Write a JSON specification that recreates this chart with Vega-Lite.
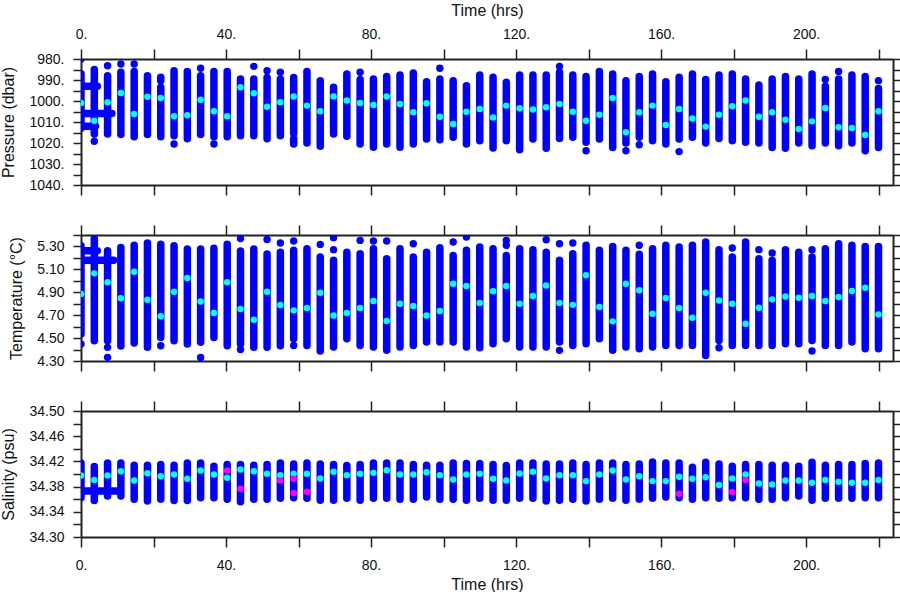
{
  "$schema": "https://vega.github.io/schema/vega-lite/v6.json",
  "padding": {"left": 0, "top": 2, "right": 0, "bottom": 0},
  "spacing": 50,
  "bounds": "flush",
  "background": "white",
  "resolve": {"scale": {"x": "independent", "y": "independent", "color": "independent"}},
  "config": {
    "view": {"stroke": null},
    "axis": {
      "labelFont": "Liberation Sans", "titleFont": "Liberation Sans",
      "labelFontSize": 14, "titleFontSize": 16, "titleFontWeight": "normal",
      "labelColor": "#111", "titleColor": "#111",
      "domainColor": "#222", "tickColor": "#222", "domainWidth": 2, "tickWidth": 1.5,
      "grid": false, "labelOverlap": false, "labelFlush": false, "labelBound": false
    }
  },
  "datasets": {
    "segs": [
      {"p":"P","t":0,"t2":0,"v":987,"v2":1013},
      {"p":"P","t":3.67,"t2":3.67,"v":985,"v2":1015.7},
      {"p":"P","t":7.33,"t2":7.33,"v":988,"v2":1015.7},
      {"p":"P","t":0.5,"t2":4.5,"v":993,"v2":993},
      {"p":"P","t":0.8,"t2":8.5,"v":1006,"v2":1006},
      {"p":"P","t":0.5,"t2":4,"v":1012,"v2":1012},
      {"p":"P","t":11,"t2":11,"v":986.3,"v2":1016},
      {"p":"P","t":14.67,"t2":14.67,"v":986,"v2":1017},
      {"p":"P","t":18.33,"t2":18.33,"v":988,"v2":1016},
      {"p":"P","t":22,"t2":22,"v":993.5,"v2":1017},
      {"p":"P","t":22,"t2":22,"v":988.7,"v2":990.3},
      {"p":"P","t":25.67,"t2":25.67,"v":985.6,"v2":1016.5},
      {"p":"P","t":29.33,"t2":29.33,"v":986,"v2":1018},
      {"p":"P","t":33,"t2":33,"v":988,"v2":1016},
      {"p":"P","t":36.67,"t2":36.67,"v":986,"v2":1017},
      {"p":"P","t":40.33,"t2":40.33,"v":986,"v2":1017},
      {"p":"P","t":44,"t2":44,"v":989.5,"v2":1016.5},
      {"p":"P","t":47.67,"t2":47.67,"v":989.5,"v2":1016.5},
      {"p":"P","t":51.33,"t2":51.33,"v":988.8,"v2":1018},
      {"p":"P","t":55,"t2":55,"v":989.5,"v2":1016.5},
      {"p":"P","t":58.67,"t2":58.67,"v":988.8,"v2":1015.5},
      {"p":"P","t":58.67,"t2":58.67,"v":1018,"v2":1020.5},
      {"p":"P","t":62.33,"t2":62.33,"v":986,"v2":1020},
      {"p":"P","t":66,"t2":66,"v":990.3,"v2":1021.6},
      {"p":"P","t":69.67,"t2":69.67,"v":993.5,"v2":1015.7},
      {"p":"P","t":73.33,"t2":73.33,"v":987.1,"v2":1016.8},
      {"p":"P","t":77,"t2":77,"v":989.8,"v2":1020.5},
      {"p":"P","t":80.67,"t2":80.67,"v":989.5,"v2":1022},
      {"p":"P","t":84.33,"t2":84.33,"v":988.3,"v2":1020.5},
      {"p":"P","t":88,"t2":88,"v":987.6,"v2":1022},
      {"p":"P","t":91.67,"t2":91.67,"v":986.7,"v2":1020.5},
      {"p":"P","t":95.33,"t2":95.33,"v":990.8,"v2":1018.1},
      {"p":"P","t":99,"t2":99,"v":989.5,"v2":1018.4},
      {"p":"P","t":102.67,"t2":102.67,"v":990.3,"v2":1017.3},
      {"p":"P","t":106.33,"t2":106.33,"v":992.7,"v2":1020.5},
      {"p":"P","t":110,"t2":110,"v":987.6,"v2":1018.9},
      {"p":"P","t":113.67,"t2":113.67,"v":988.7,"v2":1022.4},
      {"p":"P","t":117.33,"t2":117.33,"v":991.1,"v2":1018.9},
      {"p":"P","t":121,"t2":121,"v":987.6,"v2":1023.2},
      {"p":"P","t":124.67,"t2":124.67,"v":987.6,"v2":1018.1},
      {"p":"P","t":128.33,"t2":128.33,"v":987.6,"v2":1022.5},
      {"p":"P","t":132,"t2":132,"v":986.3,"v2":1017.8},
      {"p":"P","t":135.67,"t2":135.67,"v":987.6,"v2":1017.3},
      {"p":"P","t":139.33,"t2":139.33,"v":988.3,"v2":1019.7},
      {"p":"P","t":143,"t2":143,"v":986,"v2":1018.1},
      {"p":"P","t":146.67,"t2":146.67,"v":987.1,"v2":1022.1},
      {"p":"P","t":150.33,"t2":150.33,"v":990.3,"v2":1020},
      {"p":"P","t":154,"t2":154,"v":988.3,"v2":1017.3},
      {"p":"P","t":157.67,"t2":157.67,"v":987.1,"v2":1018.9},
      {"p":"P","t":161.33,"t2":161.33,"v":990.8,"v2":1020.5},
      {"p":"P","t":165,"t2":165,"v":988.7,"v2":1018.1},
      {"p":"P","t":168.67,"t2":168.67,"v":987.1,"v2":1017.3},
      {"p":"P","t":172.33,"t2":172.33,"v":989.8,"v2":1020},
      {"p":"P","t":176,"t2":176,"v":987.6,"v2":1017.8},
      {"p":"P","t":179.67,"t2":179.67,"v":987.1,"v2":1018.9},
      {"p":"P","t":183.33,"t2":183.33,"v":989.5,"v2":1019.7},
      {"p":"P","t":187,"t2":187,"v":992.4,"v2":1020},
      {"p":"P","t":190.67,"t2":190.67,"v":989.5,"v2":1022.1},
      {"p":"P","t":194.33,"t2":194.33,"v":988.3,"v2":1022.5},
      {"p":"P","t":198,"t2":198,"v":989.5,"v2":1020},
      {"p":"P","t":201.67,"t2":201.67,"v":987.1,"v2":1021.3},
      {"p":"P","t":205.33,"t2":205.33,"v":993,"v2":1020},
      {"p":"P","t":209,"t2":209,"v":989.5,"v2":1021.3},
      {"p":"P","t":212.67,"t2":212.67,"v":987.6,"v2":1020},
      {"p":"P","t":216.33,"t2":216.33,"v":988.3,"v2":1023.7},
      {"p":"P","t":220,"t2":220,"v":994,"v2":1022.1},

      {"p":"T","t":0,"t2":0,"v":5.307,"v2":4.535},
      {"p":"T","t":3.67,"t2":3.67,"v":5.37,"v2":4.477},
      {"p":"T","t":7.33,"t2":7.33,"v":5.263,"v2":4.477},
      {"p":"T","t":0,"t2":4.5,"v":5.263,"v2":5.263},
      {"p":"T","t":0.5,"t2":9,"v":5.18,"v2":5.18},
      {"p":"T","t":11,"t2":11,"v":5.29,"v2":4.43},
      {"p":"T","t":14.67,"t2":14.67,"v":5.31,"v2":4.457},
      {"p":"T","t":18.33,"t2":18.33,"v":5.33,"v2":4.42},
      {"p":"T","t":22,"t2":22,"v":5.32,"v2":4.506},
      {"p":"T","t":25.67,"t2":25.67,"v":5.307,"v2":4.477},
      {"p":"T","t":29.33,"t2":29.33,"v":5.278,"v2":4.448},
      {"p":"T","t":33,"t2":33,"v":5.278,"v2":4.463},
      {"p":"T","t":36.67,"t2":36.67,"v":5.284,"v2":4.506},
      {"p":"T","t":40.33,"t2":40.33,"v":5.32,"v2":4.433},
      {"p":"T","t":44,"t2":44,"v":5.26,"v2":4.448},
      {"p":"T","t":47.67,"t2":47.67,"v":5.278,"v2":4.42},
      {"p":"T","t":51.33,"t2":51.33,"v":5.234,"v2":4.42},
      {"p":"T","t":55,"t2":55,"v":5.249,"v2":4.433},
      {"p":"T","t":58.67,"t2":58.67,"v":5.266,"v2":4.495},
      {"p":"T","t":62.33,"t2":62.33,"v":5.28,"v2":4.436},
      {"p":"T","t":66,"t2":66,"v":5.208,"v2":4.387},
      {"p":"T","t":69.67,"t2":69.67,"v":5.179,"v2":4.422},
      {"p":"T","t":73.33,"t2":73.33,"v":5.25,"v2":4.495},
      {"p":"T","t":77,"t2":77,"v":5.237,"v2":4.436},
      {"p":"T","t":80.67,"t2":80.67,"v":5.28,"v2":4.422},
      {"p":"T","t":84.33,"t2":84.33,"v":5.193,"v2":4.393},
      {"p":"T","t":88,"t2":88,"v":5.28,"v2":4.422},
      {"p":"T","t":91.67,"t2":91.67,"v":5.208,"v2":4.436},
      {"p":"T","t":95.33,"t2":95.33,"v":5.25,"v2":4.466},
      {"p":"T","t":99,"t2":99,"v":5.289,"v2":4.466},
      {"p":"T","t":102.67,"t2":102.67,"v":5.222,"v2":4.466},
      {"p":"T","t":106.33,"t2":106.33,"v":5.266,"v2":4.422},
      {"p":"T","t":110,"t2":110,"v":5.295,"v2":4.416},
      {"p":"T","t":113.67,"t2":113.67,"v":5.28,"v2":4.451},
      {"p":"T","t":117.33,"t2":117.33,"v":5.222,"v2":4.495},
      {"p":"T","t":121,"t2":121,"v":5.28,"v2":4.422},
      {"p":"T","t":124.67,"t2":124.67,"v":5.272,"v2":4.422},
      {"p":"T","t":128.33,"t2":128.33,"v":5.25,"v2":4.422},
      {"p":"T","t":132,"t2":132,"v":5.179,"v2":4.466},
      {"p":"T","t":135.67,"t2":135.67,"v":5.237,"v2":4.436},
      {"p":"T","t":139.33,"t2":139.33,"v":5.31,"v2":4.451},
      {"p":"T","t":143,"t2":143,"v":5.266,"v2":4.495},
      {"p":"T","t":146.67,"t2":146.67,"v":5.3,"v2":4.393},
      {"p":"T","t":150.33,"t2":150.33,"v":5.266,"v2":4.422},
      {"p":"T","t":154,"t2":154,"v":5.231,"v2":4.407},
      {"p":"T","t":157.67,"t2":157.67,"v":5.28,"v2":4.422},
      {"p":"T","t":161.33,"t2":161.33,"v":5.31,"v2":4.436},
      {"p":"T","t":165,"t2":165,"v":5.295,"v2":4.436},
      {"p":"T","t":168.67,"t2":168.67,"v":5.31,"v2":4.436},
      {"p":"T","t":172.33,"t2":172.33,"v":5.339,"v2":4.349},
      {"p":"T","t":176,"t2":176,"v":5.272,"v2":4.48},
      {"p":"T","t":179.67,"t2":179.67,"v":5.208,"v2":4.436},
      {"p":"T","t":183.33,"t2":183.33,"v":5.339,"v2":4.436},
      {"p":"T","t":187,"t2":187,"v":5.193,"v2":4.436},
      {"p":"T","t":190.67,"t2":190.67,"v":5.179,"v2":4.436},
      {"p":"T","t":194.33,"t2":194.33,"v":5.272,"v2":4.451},
      {"p":"T","t":198,"t2":198,"v":5.25,"v2":4.451},
      {"p":"T","t":201.67,"t2":201.67,"v":5.208,"v2":4.48},
      {"p":"T","t":205.33,"t2":205.33,"v":5.28,"v2":4.436},
      {"p":"T","t":209,"t2":209,"v":5.324,"v2":4.436},
      {"p":"T","t":212.67,"t2":212.67,"v":5.31,"v2":4.466},
      {"p":"T","t":216.33,"t2":216.33,"v":5.3,"v2":4.407},
      {"p":"T","t":220,"t2":220,"v":5.3,"v2":4.407},

      {"p":"S","t":0,"t2":0,"v":34.4176,"v2":34.3625},
      {"p":"S","t":3.67,"t2":3.67,"v":34.412,"v2":34.358},
      {"p":"S","t":7.33,"t2":7.33,"v":34.4176,"v2":34.3651},
      {"p":"S","t":0.5,"t2":9.7,"v":34.373,"v2":34.373},
      {"p":"S","t":11,"t2":11,"v":34.4176,"v2":34.3651},
      {"p":"S","t":14.67,"t2":14.67,"v":34.414,"v2":34.36},
      {"p":"S","t":18.33,"t2":18.33,"v":34.414,"v2":34.357},
      {"p":"S","t":22,"t2":22,"v":34.415,"v2":34.36},
      {"p":"S","t":25.67,"t2":25.67,"v":34.414,"v2":34.358},
      {"p":"S","t":29.33,"t2":29.33,"v":34.4176,"v2":34.358},
      {"p":"S","t":33,"t2":33,"v":34.4176,"v2":34.3625},
      {"p":"S","t":36.67,"t2":36.67,"v":34.4123,"v2":34.3625},
      {"p":"S","t":40.33,"t2":40.33,"v":34.415,"v2":34.36},
      {"p":"S","t":44,"t2":44,"v":34.415,"v2":34.356},
      {"p":"S","t":47.67,"t2":47.67,"v":34.414,"v2":34.36},
      {"p":"S","t":51.33,"t2":51.33,"v":34.415,"v2":34.36},
      {"p":"S","t":55,"t2":55,"v":34.4176,"v2":34.3614},
      {"p":"S","t":58.67,"t2":58.67,"v":34.416,"v2":34.3625},
      {"p":"S","t":62.33,"t2":62.33,"v":34.4176,"v2":34.3614},
      {"p":"S","t":66,"t2":66,"v":34.416,"v2":34.3583},
      {"p":"S","t":69.67,"t2":69.67,"v":34.415,"v2":34.3583},
      {"p":"S","t":73.33,"t2":73.33,"v":34.4134,"v2":34.3614},
      {"p":"S","t":77,"t2":77,"v":34.415,"v2":34.3583},
      {"p":"S","t":80.67,"t2":80.67,"v":34.4176,"v2":34.3614},
      {"p":"S","t":84.33,"t2":84.33,"v":34.4176,"v2":34.3614},
      {"p":"S","t":88,"t2":88,"v":34.4176,"v2":34.3598},
      {"p":"S","t":91.67,"t2":91.67,"v":34.415,"v2":34.3598},
      {"p":"S","t":95.33,"t2":95.33,"v":34.4139,"v2":34.3635},
      {"p":"S","t":99,"t2":99,"v":34.4139,"v2":34.3598},
      {"p":"S","t":102.67,"t2":102.67,"v":34.4176,"v2":34.3598},
      {"p":"S","t":106.33,"t2":106.33,"v":34.4165,"v2":34.3583},
      {"p":"S","t":110,"t2":110,"v":34.4165,"v2":34.3614},
      {"p":"S","t":113.67,"t2":113.67,"v":34.415,"v2":34.3583},
      {"p":"S","t":117.33,"t2":117.33,"v":34.4134,"v2":34.3583},
      {"p":"S","t":121,"t2":121,"v":34.4176,"v2":34.3614},
      {"p":"S","t":124.67,"t2":124.67,"v":34.4176,"v2":34.3614},
      {"p":"S","t":128.33,"t2":128.33,"v":34.416,"v2":34.3572},
      {"p":"S","t":132,"t2":132,"v":34.416,"v2":34.3583},
      {"p":"S","t":135.67,"t2":135.67,"v":34.4176,"v2":34.3598},
      {"p":"S","t":139.33,"t2":139.33,"v":34.415,"v2":34.3572},
      {"p":"S","t":143,"t2":143,"v":34.4176,"v2":34.3598},
      {"p":"S","t":146.67,"t2":146.67,"v":34.4176,"v2":34.3614},
      {"p":"S","t":150.33,"t2":150.33,"v":34.415,"v2":34.3583},
      {"p":"S","t":154,"t2":154,"v":34.416,"v2":34.3598},
      {"p":"S","t":157.67,"t2":157.67,"v":34.4192,"v2":34.3614},
      {"p":"S","t":161.33,"t2":161.33,"v":34.4176,"v2":34.3635},
      {"p":"S","t":165,"t2":165,"v":34.4176,"v2":34.3625},
      {"p":"S","t":168.67,"t2":168.67,"v":34.4108,"v2":34.3598},
      {"p":"S","t":172.33,"t2":172.33,"v":34.4186,"v2":34.3625},
      {"p":"S","t":176,"t2":176,"v":34.416,"v2":34.3614},
      {"p":"S","t":179.67,"t2":179.67,"v":34.4123,"v2":34.3625},
      {"p":"S","t":183.33,"t2":183.33,"v":34.415,"v2":34.3625},
      {"p":"S","t":187,"t2":187,"v":34.415,"v2":34.3598},
      {"p":"S","t":190.67,"t2":190.67,"v":34.4139,"v2":34.3598},
      {"p":"S","t":194.33,"t2":194.33,"v":34.4139,"v2":34.3625},
      {"p":"S","t":198,"t2":198,"v":34.4123,"v2":34.3651},
      {"p":"S","t":201.67,"t2":201.67,"v":34.4186,"v2":34.3583},
      {"p":"S","t":205.33,"t2":205.33,"v":34.4139,"v2":34.3614},
      {"p":"S","t":209,"t2":209,"v":34.415,"v2":34.3614},
      {"p":"S","t":212.67,"t2":212.67,"v":34.415,"v2":34.3614},
      {"p":"S","t":216.33,"t2":216.33,"v":34.4165,"v2":34.3625},
      {"p":"S","t":220,"t2":220,"v":34.4176,"v2":34.3625}
    ],
    "pts": [
      {"p":"P","t":0,"v":980,"c":"b"},
      {"p":"P","t":3.67,"v":1019.2,"c":"b"},
      {"p":"P","t":7.33,"v":983.2,"c":"b"},
      {"p":"P","t":11,"v":982.4,"c":"b"},
      {"p":"P","t":14.67,"v":982.4,"c":"b"},
      {"p":"P","t":25.67,"v":1020.5,"c":"b"},
      {"p":"P","t":33,"v":984.4,"c":"b"},
      {"p":"P","t":36.67,"v":1020.5,"c":"b"},
      {"p":"P","t":47.67,"v":983.5,"c":"b"},
      {"p":"P","t":51.33,"v":985.6,"c":"b"},
      {"p":"P","t":55,"v":986.3,"c":"b"},
      {"p":"P","t":77,"v":986.3,"c":"b"},
      {"p":"P","t":99,"v":984.4,"c":"b"},
      {"p":"P","t":132,"v":983.5,"c":"b"},
      {"p":"P","t":139.33,"v":1023.7,"c":"b"},
      {"p":"P","t":150.33,"v":1023.7,"c":"b"},
      {"p":"P","t":154,"v":1020.8,"c":"b"},
      {"p":"P","t":165,"v":1024.1,"c":"b"},
      {"p":"P","t":205.33,"v":989.8,"c":"b"},
      {"p":"P","t":209,"v":985.9,"c":"b"},
      {"p":"P","t":220,"v":990.3,"c":"b"},

      {"p":"T","t":0,"v":4.448,"c":"b"},
      {"p":"T","t":7.33,"v":4.419,"c":"b"},
      {"p":"T","t":7.33,"v":4.332,"c":"b"},
      {"p":"T","t":22,"v":4.433,"c":"b"},
      {"p":"T","t":33,"v":4.33,"c":"b"},
      {"p":"T","t":44,"v":5.37,"c":"b"},
      {"p":"T","t":44,"v":4.4,"c":"b"},
      {"p":"T","t":51.33,"v":5.36,"c":"b"},
      {"p":"T","t":55,"v":5.33,"c":"b"},
      {"p":"T","t":58.67,"v":5.348,"c":"b"},
      {"p":"T","t":58.67,"v":4.436,"c":"b"},
      {"p":"T","t":66,"v":5.318,"c":"b"},
      {"p":"T","t":69.67,"v":5.377,"c":"b"},
      {"p":"T","t":69.67,"v":5.272,"c":"b"},
      {"p":"T","t":77,"v":5.353,"c":"b"},
      {"p":"T","t":80.67,"v":5.348,"c":"b"},
      {"p":"T","t":84.33,"v":5.348,"c":"b"},
      {"p":"T","t":91.67,"v":5.324,"c":"b"},
      {"p":"T","t":102.67,"v":5.339,"c":"b"},
      {"p":"T","t":106.33,"v":5.383,"c":"b"},
      {"p":"T","t":117.33,"v":5.353,"c":"b"},
      {"p":"T","t":117.33,"v":5.31,"c":"b"},
      {"p":"T","t":128.33,"v":5.359,"c":"b"},
      {"p":"T","t":132,"v":5.324,"c":"b"},
      {"p":"T","t":132,"v":4.393,"c":"b"},
      {"p":"T","t":135.67,"v":5.33,"c":"b"},
      {"p":"T","t":154,"v":5.31,"c":"b"},
      {"p":"T","t":176,"v":4.416,"c":"b"},
      {"p":"T","t":179.67,"v":5.286,"c":"b"},
      {"p":"T","t":187,"v":5.272,"c":"b"},
      {"p":"T","t":190.67,"v":5.243,"c":"b"},
      {"p":"T","t":201.67,"v":5.272,"c":"b"},
      {"p":"T","t":201.67,"v":4.387,"c":"b"},

      {"p":"P","t":0,"v":1001,"c":"c"},
      {"p":"P","t":3.67,"v":1009.4,"c":"c"},
      {"p":"P","t":7.33,"v":1000.6,"c":"c"},
      {"p":"P","t":11,"v":996.2,"c":"c"},
      {"p":"P","t":14.67,"v":1006.2,"c":"c"},
      {"p":"P","t":18.33,"v":998,"c":"c"},
      {"p":"P","t":22,"v":998.6,"c":"c"},
      {"p":"P","t":25.67,"v":1007.3,"c":"c"},
      {"p":"P","t":29.33,"v":1006.8,"c":"c"},
      {"p":"P","t":33,"v":999.4,"c":"c"},
      {"p":"P","t":36.67,"v":1004.9,"c":"c"},
      {"p":"P","t":40.33,"v":1007.3,"c":"c"},
      {"p":"P","t":44,"v":993.5,"c":"c"},
      {"p":"P","t":47.67,"v":996.3,"c":"c"},
      {"p":"P","t":51.33,"v":1002.7,"c":"c"},
      {"p":"P","t":55,"v":1000.6,"c":"c"},
      {"p":"P","t":58.67,"v":997.9,"c":"c"},
      {"p":"P","t":62.33,"v":1002.2,"c":"c"},
      {"p":"P","t":66,"v":1004.9,"c":"c"},
      {"p":"P","t":69.67,"v":997.8,"c":"c"},
      {"p":"P","t":73.33,"v":999.8,"c":"c"},
      {"p":"P","t":77,"v":1001,"c":"c"},
      {"p":"P","t":80.67,"v":1001.9,"c":"c"},
      {"p":"P","t":84.33,"v":997.9,"c":"c"},
      {"p":"P","t":88,"v":1001.4,"c":"c"},
      {"p":"P","t":91.67,"v":1005.4,"c":"c"},
      {"p":"P","t":95.33,"v":1001.1,"c":"c"},
      {"p":"P","t":99,"v":1007.5,"c":"c"},
      {"p":"P","t":102.67,"v":1011,"c":"c"},
      {"p":"P","t":106.33,"v":1005.1,"c":"c"},
      {"p":"P","t":110,"v":1003.8,"c":"c"},
      {"p":"P","t":113.67,"v":1007.8,"c":"c"},
      {"p":"P","t":117.33,"v":1002.2,"c":"c"},
      {"p":"P","t":121,"v":1003.5,"c":"c"},
      {"p":"P","t":124.67,"v":1004.1,"c":"c"},
      {"p":"P","t":128.33,"v":1003,"c":"c"},
      {"p":"P","t":132,"v":1001.4,"c":"c"},
      {"p":"P","t":135.67,"v":1005.1,"c":"c"},
      {"p":"P","t":139.33,"v":1009.4,"c":"c"},
      {"p":"P","t":143,"v":1006.5,"c":"c"},
      {"p":"P","t":146.67,"v":998.6,"c":"c"},
      {"p":"P","t":150.33,"v":1014.9,"c":"c"},
      {"p":"P","t":154,"v":1005.4,"c":"c"},
      {"p":"P","t":157.67,"v":1002.2,"c":"c"},
      {"p":"P","t":161.33,"v":1011.4,"c":"c"},
      {"p":"P","t":165,"v":1003.8,"c":"c"},
      {"p":"P","t":168.67,"v":1008.3,"c":"c"},
      {"p":"P","t":172.33,"v":1012.2,"c":"c"},
      {"p":"P","t":176,"v":1006.5,"c":"c"},
      {"p":"P","t":179.67,"v":1002.5,"c":"c"},
      {"p":"P","t":183.33,"v":999.8,"c":"c"},
      {"p":"P","t":187,"v":1007.5,"c":"c"},
      {"p":"P","t":190.67,"v":1005.4,"c":"c"},
      {"p":"P","t":194.33,"v":1008.9,"c":"c"},
      {"p":"P","t":198,"v":1013.3,"c":"c"},
      {"p":"P","t":201.67,"v":1009.7,"c":"c"},
      {"p":"P","t":205.33,"v":1003.3,"c":"c"},
      {"p":"P","t":209,"v":1012.5,"c":"c"},
      {"p":"P","t":212.67,"v":1012.9,"c":"c"},
      {"p":"P","t":216.33,"v":1016.2,"c":"c"},
      {"p":"P","t":220,"v":1004.9,"c":"c"},

      {"p":"T","t":0,"v":4.885,"c":"c"},
      {"p":"T","t":3.67,"v":5.065,"c":"c"},
      {"p":"T","t":7.33,"v":4.987,"c":"c"},
      {"p":"T","t":11,"v":4.847,"c":"c"},
      {"p":"T","t":14.67,"v":5.08,"c":"c"},
      {"p":"T","t":18.33,"v":4.835,"c":"c"},
      {"p":"T","t":22,"v":4.69,"c":"c"},
      {"p":"T","t":25.67,"v":4.905,"c":"c"},
      {"p":"T","t":29.33,"v":5.024,"c":"c"},
      {"p":"T","t":33,"v":4.82,"c":"c"},
      {"p":"T","t":36.67,"v":4.719,"c":"c"},
      {"p":"T","t":40.33,"v":4.987,"c":"c"},
      {"p":"T","t":44,"v":4.754,"c":"c"},
      {"p":"T","t":47.67,"v":4.66,"c":"c"},
      {"p":"T","t":51.33,"v":4.905,"c":"c"},
      {"p":"T","t":55,"v":4.789,"c":"c"},
      {"p":"T","t":58.67,"v":4.742,"c":"c"},
      {"p":"T","t":62.33,"v":4.762,"c":"c"},
      {"p":"T","t":66,"v":4.896,"c":"c"},
      {"p":"T","t":69.67,"v":4.698,"c":"c"},
      {"p":"T","t":73.33,"v":4.72,"c":"c"},
      {"p":"T","t":77,"v":4.762,"c":"c"},
      {"p":"T","t":80.67,"v":4.823,"c":"c"},
      {"p":"T","t":84.33,"v":4.649,"c":"c"},
      {"p":"T","t":88,"v":4.8,"c":"c"},
      {"p":"T","t":91.67,"v":4.78,"c":"c"},
      {"p":"T","t":95.33,"v":4.698,"c":"c"},
      {"p":"T","t":99,"v":4.736,"c":"c"},
      {"p":"T","t":102.67,"v":4.975,"c":"c"},
      {"p":"T","t":106.33,"v":4.955,"c":"c"},
      {"p":"T","t":110,"v":4.806,"c":"c"},
      {"p":"T","t":113.67,"v":4.908,"c":"c"},
      {"p":"T","t":117.33,"v":4.955,"c":"c"},
      {"p":"T","t":121,"v":4.8,"c":"c"},
      {"p":"T","t":124.67,"v":4.867,"c":"c"},
      {"p":"T","t":128.33,"v":4.96,"c":"c"},
      {"p":"T","t":132,"v":4.806,"c":"c"},
      {"p":"T","t":135.67,"v":4.79,"c":"c"},
      {"p":"T","t":139.33,"v":5.048,"c":"c"},
      {"p":"T","t":143,"v":4.771,"c":"c"},
      {"p":"T","t":146.67,"v":4.646,"c":"c"},
      {"p":"T","t":150.33,"v":4.975,"c":"c"},
      {"p":"T","t":154,"v":4.917,"c":"c"},
      {"p":"T","t":157.67,"v":4.713,"c":"c"},
      {"p":"T","t":161.33,"v":4.85,"c":"c"},
      {"p":"T","t":165,"v":4.762,"c":"c"},
      {"p":"T","t":168.67,"v":4.678,"c":"c"},
      {"p":"T","t":172.33,"v":4.896,"c":"c"},
      {"p":"T","t":176,"v":4.829,"c":"c"},
      {"p":"T","t":179.67,"v":4.8,"c":"c"},
      {"p":"T","t":183.33,"v":4.626,"c":"c"},
      {"p":"T","t":187,"v":4.765,"c":"c"},
      {"p":"T","t":190.67,"v":4.838,"c":"c"},
      {"p":"T","t":194.33,"v":4.864,"c":"c"},
      {"p":"T","t":198,"v":4.853,"c":"c"},
      {"p":"T","t":201.67,"v":4.867,"c":"c"},
      {"p":"T","t":205.33,"v":4.823,"c":"c"},
      {"p":"T","t":209,"v":4.858,"c":"c"},
      {"p":"T","t":212.67,"v":4.911,"c":"c"},
      {"p":"T","t":216.33,"v":4.94,"c":"c"},
      {"p":"T","t":220,"v":4.707,"c":"c"},

      {"p":"S","t":0,"v":34.3976,"c":"c"},
      {"p":"S","t":3.67,"v":34.3903,"c":"c"},
      {"p":"S","t":7.33,"v":34.3976,"c":"c"},
      {"p":"S","t":11,"v":34.4045,"c":"c"},
      {"p":"S","t":14.67,"v":34.3898,"c":"c"},
      {"p":"S","t":18.33,"v":34.4013,"c":"c"},
      {"p":"S","t":22,"v":34.3966,"c":"c"},
      {"p":"S","t":25.67,"v":34.3992,"c":"c"},
      {"p":"S","t":29.33,"v":34.3924,"c":"c"},
      {"p":"S","t":33,"v":34.4055,"c":"c"},
      {"p":"S","t":36.67,"v":34.3992,"c":"c"},
      {"p":"S","t":40.33,"v":34.394,"c":"c"},
      {"p":"S","t":44,"v":34.4071,"c":"c"},
      {"p":"S","t":47.67,"v":34.4045,"c":"c"},
      {"p":"S","t":51.33,"v":34.4003,"c":"c"},
      {"p":"S","t":55,"v":34.3982,"c":"c"},
      {"p":"S","t":58.67,"v":34.4003,"c":"c"},
      {"p":"S","t":62.33,"v":34.4003,"c":"c"},
      {"p":"S","t":66,"v":34.3929,"c":"c"},
      {"p":"S","t":69.67,"v":34.4034,"c":"c"},
      {"p":"S","t":73.33,"v":34.3982,"c":"c"},
      {"p":"S","t":77,"v":34.4003,"c":"c"},
      {"p":"S","t":80.67,"v":34.4018,"c":"c"},
      {"p":"S","t":84.33,"v":34.406,"c":"c"},
      {"p":"S","t":88,"v":34.3992,"c":"c"},
      {"p":"S","t":91.67,"v":34.3992,"c":"c"},
      {"p":"S","t":95.33,"v":34.4029,"c":"c"},
      {"p":"S","t":99,"v":34.3982,"c":"c"},
      {"p":"S","t":102.67,"v":34.3913,"c":"c"},
      {"p":"S","t":106.33,"v":34.3992,"c":"c"},
      {"p":"S","t":110,"v":34.4003,"c":"c"},
      {"p":"S","t":113.67,"v":34.3924,"c":"c"},
      {"p":"S","t":117.33,"v":34.3898,"c":"c"},
      {"p":"S","t":121,"v":34.4008,"c":"c"},
      {"p":"S","t":124.67,"v":34.4034,"c":"c"},
      {"p":"S","t":128.33,"v":34.3929,"c":"c"},
      {"p":"S","t":132,"v":34.3982,"c":"c"},
      {"p":"S","t":135.67,"v":34.3982,"c":"c"},
      {"p":"S","t":139.33,"v":34.3887,"c":"c"},
      {"p":"S","t":143,"v":34.3992,"c":"c"},
      {"p":"S","t":146.67,"v":34.4055,"c":"c"},
      {"p":"S","t":150.33,"v":34.3913,"c":"c"},
      {"p":"S","t":154,"v":34.3966,"c":"c"},
      {"p":"S","t":157.67,"v":34.3887,"c":"c"},
      {"p":"S","t":161.33,"v":34.3887,"c":"c"},
      {"p":"S","t":165,"v":34.3955,"c":"c"},
      {"p":"S","t":168.67,"v":34.3924,"c":"c"},
      {"p":"S","t":172.33,"v":34.395,"c":"c"},
      {"p":"S","t":176,"v":34.3824,"c":"c"},
      {"p":"S","t":179.67,"v":34.3929,"c":"c"},
      {"p":"S","t":183.33,"v":34.3992,"c":"c"},
      {"p":"S","t":187,"v":34.385,"c":"c"},
      {"p":"S","t":190.67,"v":34.3835,"c":"c"},
      {"p":"S","t":194.33,"v":34.3898,"c":"c"},
      {"p":"S","t":198,"v":34.3898,"c":"c"},
      {"p":"S","t":201.67,"v":34.3861,"c":"c"},
      {"p":"S","t":205.33,"v":34.3903,"c":"c"},
      {"p":"S","t":209,"v":34.3877,"c":"c"},
      {"p":"S","t":212.67,"v":34.3861,"c":"c"},
      {"p":"S","t":216.33,"v":34.3861,"c":"c"},
      {"p":"S","t":220,"v":34.3903,"c":"c"},

      {"p":"S","t":40.33,"v":34.4055,"c":"m"},
      {"p":"S","t":44,"v":34.3766,"c":"m"},
      {"p":"S","t":55,"v":34.3898,"c":"m"},
      {"p":"S","t":58.67,"v":34.3924,"c":"m"},
      {"p":"S","t":58.67,"v":34.3698,"c":"m"},
      {"p":"S","t":62.33,"v":34.3719,"c":"m"},
      {"p":"S","t":165,"v":34.3688,"c":"m"},
      {"p":"S","t":179.67,"v":34.3714,"c":"m"},
      {"p":"S","t":183.33,"v":34.3903,"c":"m"}
    ]
  },
  "vconcat": [
    {
      "width": 812, "height": 126,
      "resolve": {"axis": {"x": "independent", "y": "independent"}},
      "layer": [
        {
          "data": {"name": "segs"},
          "transform": [{"filter": "datum.p == 'P'"}],
          "mark": {"type": "rule", "strokeWidth": 7.5, "strokeCap": "round", "color": "#0000ff", "clip": true},
          "encoding": {
            "x": {"field": "t", "type": "quantitative", "scale": {"domain": [0, 224], "nice": false, "zero": false},
                  "axis": {"orient": "bottom", "values": [0,20,40,60,80,100,120,140,160,180,200,220], "labels": false, "title": null, "tickSize": 10}},
            "x2": {"field": "t2"},
            "y": {"field": "v", "type": "quantitative", "scale": {"domain": [980, 1040], "reverse": true, "nice": false, "zero": false},
                  "axis": {"orient": "left", "values": [980,985,990,995,1000,1005,1010,1015,1020,1025,1030,1035,1040],
                           "labelExpr": "datum.value % 10 == 0 ? datum.value + '.' : ''", "title": "Pressure (dbar)",
                           "tickSize": 8, "labelPadding": 9, "titlePadding": 12}},
            "y2": {"field": "v2"}
          }
        },
        {
          "data": {"name": "pts"},
          "transform": [{"filter": "datum.p == 'P' && datum.c == 'b'"}],
          "mark": {"type": "circle", "size": 55, "opacity": 1, "color": "#0000ff", "clip": true},
          "encoding": {
            "x": {"field": "t", "type": "quantitative", "axis": null},
            "y": {"field": "v", "type": "quantitative", "axis": null}
          }
        },
        {
          "data": {"name": "pts"},
          "transform": [{"filter": "datum.p == 'P' && datum.c != 'b'"}],
          "mark": {"type": "circle", "size": 42, "opacity": 1, "clip": true},
          "encoding": {
            "x": {"field": "t", "type": "quantitative",
                  "axis": {"orient": "top", "values": [0,20,40,60,80,100,120,140,160,180,200,220],
                           "labelExpr": "datum.value % 40 == 0 ? datum.value + '.' : ''", "title": "Time (hrs)",
                           "tickSize": 10, "labelPadding": 8, "titlePadding": 9}},
            "y": {"field": "v", "type": "quantitative",
                  "axis": {"orient": "right", "values": [980,985,990,995,1000,1005,1010,1015,1020,1025,1030,1035,1040], "labels": false, "title": null, "tickSize": 8}},
            "color": {"field": "c", "type": "nominal", "scale": {"domain": ["c", "m"], "range": ["#00ffff", "#ff00ff"]}, "legend": null}
          }
        }
      ]
    },
    {
      "width": 812, "height": 126,
      "resolve": {"axis": {"x": "independent", "y": "independent"}},
      "layer": [
        {
          "data": {"name": "segs"},
          "transform": [{"filter": "datum.p == 'T'"}],
          "mark": {"type": "rule", "strokeWidth": 7.5, "strokeCap": "round", "color": "#0000ff", "clip": true},
          "encoding": {
            "x": {"field": "t", "type": "quantitative", "scale": {"domain": [0, 224], "nice": false, "zero": false},
                  "axis": {"orient": "bottom", "values": [0,20,40,60,80,100,120,140,160,180,200,220], "labels": false, "title": null, "tickSize": 10}},
            "x2": {"field": "t2"},
            "y": {"field": "v", "type": "quantitative", "scale": {"domain": [4.3, 5.4], "nice": false, "zero": false},
                  "axis": {"orient": "left", "values": [4.3,4.4,4.5,4.6,4.7,4.8,4.9,5.0,5.1,5.2,5.3,5.4],
                           "labelExpr": "round(datum.value * 10) % 2 == 1 ? format(datum.value, '.2f') : ''", "title": "Temperature (°C)",
                           "tickSize": 8, "labelPadding": 9, "titlePadding": 12}},
            "y2": {"field": "v2"}
          }
        },
        {
          "data": {"name": "pts"},
          "transform": [{"filter": "datum.p == 'T' && datum.c == 'b'"}],
          "mark": {"type": "circle", "size": 55, "opacity": 1, "color": "#0000ff", "clip": true},
          "encoding": {
            "x": {"field": "t", "type": "quantitative", "axis": null},
            "y": {"field": "v", "type": "quantitative", "axis": null}
          }
        },
        {
          "data": {"name": "pts"},
          "transform": [{"filter": "datum.p == 'T' && datum.c != 'b'"}],
          "mark": {"type": "circle", "size": 42, "opacity": 1, "clip": true},
          "encoding": {
            "x": {"field": "t", "type": "quantitative",
                  "axis": {"orient": "top", "values": [0,20,40,60,80,100,120,140,160,180,200,220], "labels": false, "title": null, "tickSize": 10}},
            "y": {"field": "v", "type": "quantitative",
                  "axis": {"orient": "right", "values": [4.3,4.4,4.5,4.6,4.7,4.8,4.9,5.0,5.1,5.2,5.3,5.4], "labels": false, "title": null, "tickSize": 8}},
            "color": {"field": "c", "type": "nominal", "scale": {"domain": ["c", "m"], "range": ["#00ffff", "#ff00ff"]}, "legend": null}
          }
        }
      ]
    },
    {
      "width": 812, "height": 126,
      "resolve": {"axis": {"x": "independent", "y": "independent"}},
      "layer": [
        {
          "data": {"name": "segs"},
          "transform": [{"filter": "datum.p == 'S'"}],
          "mark": {"type": "rule", "strokeWidth": 7.5, "strokeCap": "round", "color": "#0000ff", "clip": true},
          "encoding": {
            "x": {"field": "t", "type": "quantitative", "scale": {"domain": [0, 224], "nice": false, "zero": false},
                  "axis": {"orient": "bottom", "values": [0,20,40,60,80,100,120,140,160,180,200,220],
                           "labelExpr": "datum.value % 40 == 0 ? datum.value + '.' : ''", "title": "Time (hrs)",
                           "tickSize": 10, "labelPadding": 11, "titlePadding": 4}},
            "x2": {"field": "t2"},
            "y": {"field": "v", "type": "quantitative", "scale": {"domain": [34.3, 34.5], "nice": false, "zero": false},
                  "axis": {"orient": "left", "values": [34.3,34.32,34.34,34.36,34.38,34.4,34.42,34.44,34.46,34.48,34.5],
                           "labelExpr": "(round(datum.value * 100) - 3430) % 4 == 0 ? format(datum.value, '.2f') : ''", "title": "Salinity (psu)",
                           "tickSize": 8, "labelPadding": 9, "titlePadding": 12}},
            "y2": {"field": "v2"}
          }
        },
        {
          "data": {"name": "pts"},
          "transform": [{"filter": "datum.p == 'S' && datum.c == 'b'"}],
          "mark": {"type": "circle", "size": 55, "opacity": 1, "color": "#0000ff", "clip": true},
          "encoding": {
            "x": {"field": "t", "type": "quantitative", "axis": null},
            "y": {"field": "v", "type": "quantitative", "axis": null}
          }
        },
        {
          "data": {"name": "pts"},
          "transform": [{"filter": "datum.p == 'S' && datum.c != 'b'"}],
          "mark": {"type": "circle", "size": 42, "opacity": 1, "clip": true},
          "encoding": {
            "x": {"field": "t", "type": "quantitative",
                  "axis": {"orient": "top", "values": [0,20,40,60,80,100,120,140,160,180,200,220], "labels": false, "title": null, "tickSize": 10}},
            "y": {"field": "v", "type": "quantitative",
                  "axis": {"orient": "right", "values": [34.3,34.32,34.34,34.36,34.38,34.4,34.42,34.44,34.46,34.48,34.5], "labels": false, "title": null, "tickSize": 8}},
            "color": {"field": "c", "type": "nominal", "scale": {"domain": ["c", "m"], "range": ["#00ffff", "#ff00ff"]}, "legend": null}
          }
        }
      ]
    }
  ]
}
